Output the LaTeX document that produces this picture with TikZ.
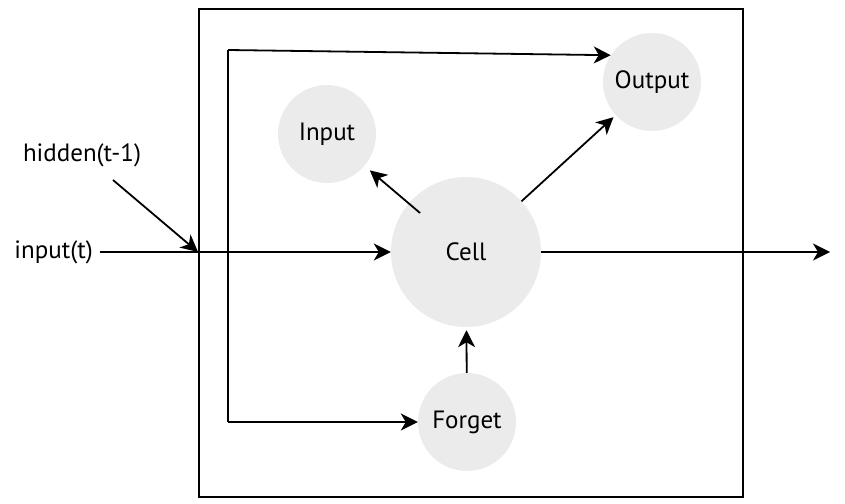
\documentclass[tikz,border=0pt]{standalone}
\usepackage{fontspec}
\setmainfont{PT Sans}
\usetikzlibrary{arrows.meta}
\definecolor{gatefill}{HTML}{EBEBEB}
\tikzset{
  gate/.style={circle, fill=gatefill, inner sep=0pt, minimum size=#1, font=\fontsize{25}{30}\selectfont},
  lbl/.style={inner sep=0pt, font=\fontsize{25}{30}\selectfont},
  arr/.style={line width=1.8pt, -{Stealth[length=17pt,width=17pt,inset=5pt]}},
  ln/.style={line width=1.8pt},
}
\begin{document}
\begin{tikzpicture}[x=1pt,y=-1pt]
\useasboundingbox (0,0) rectangle (845,503);
\draw[ln] (199,9) rectangle (743,497);
\node[gate=150pt] (cell) at (466,252) {Cell};
\node[gate=98pt] (inp) at (327,134) {Input};
\node[gate=98pt] (out) at (652,82) {Output};
\node[gate=98pt] (fgt) at (467,422) {Forget};
\node[lbl] (hid) at (82,155) {hidden(t-1)};
\node[lbl, anchor=east] (xin) at (93,252) {input(t)};
\coordinate (j) at (198,252);
\coordinate (hs) at (113,180);
\coordinate (tl) at (228,50);
\coordinate (bl) at (228,422);
\coordinate (yend) at (830,252);
\draw[arr] (hs) -- (j);
\draw[arr, shorten <=7pt] (xin.east) -- (cell.west);
\draw[ln] (tl) -- (bl);
\draw[arr] (tl) -- (out.147);
\draw[arr] (bl) -- (fgt.west);
\draw[arr, shorten <=-15pt, shorten >=7pt] (cell) -- (inp);
\draw[arr, shorten >=3pt] (cell) -- (out);
\draw[arr, shorten >=3pt] (fgt) -- (cell);
\draw[arr] (cell.east) -- (yend);
\end{tikzpicture}
\end{document}
